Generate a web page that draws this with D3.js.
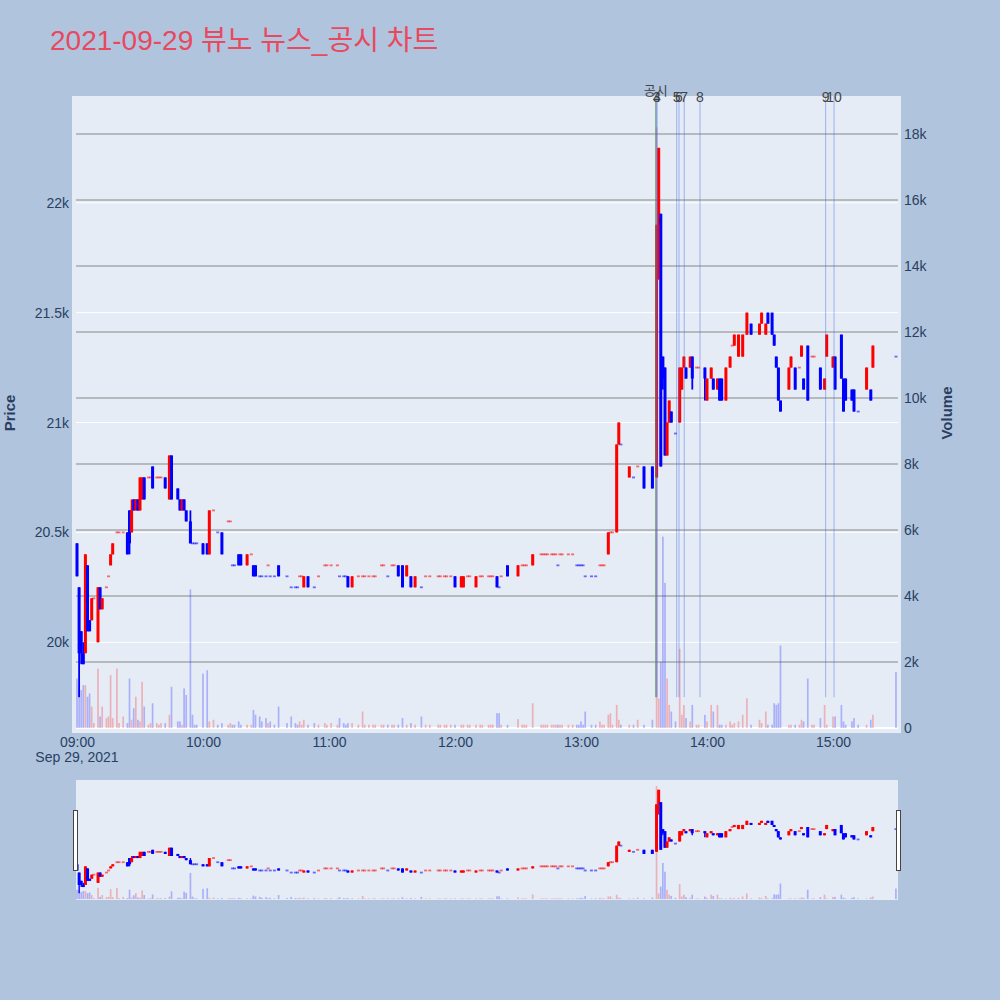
<!DOCTYPE html>
<html>
<head>
<meta charset="utf-8">
<script src="https://cdnjs.cloudflare.com/ajax/libs/d3/7.8.5/d3.min.js"></script>
<style>
  body { margin: 0; background: #b0c4de; }
  text { font-family: "Liberation Sans", Arial, "Noto Sans CJK KR", sans-serif; }
</style>
</head>
<body>
<div id="chart"></div>
<script>
// 1-minute candles, 2021-09-29 (minutes without trades are left out)
const times = [
  "09:00","09:01","09:02","09:03","09:04","09:05","09:06","09:07","09:08","09:10",
  "09:11","09:12","09:14","09:15","09:16","09:17","09:19","09:20","09:22","09:24",
  "09:25","09:26","09:27","09:28","09:29","09:30","09:31","09:32","09:34","09:35",
  "09:36","09:38","09:39","09:40","09:42","09:44","09:45","09:48","09:49","09:50",
  "09:51","09:52","09:54","09:55","09:56","09:57","10:00","10:02","10:03","10:05",
  "10:07","10:09","10:12","10:13","10:14","10:15","10:17","10:18","10:21","10:23",
  "10:24","10:25","10:27","10:28","10:30","10:31","10:32","10:34","10:36","10:40",
  "10:42","10:44","10:45","10:46","10:47","10:48","10:50","10:53","10:55","10:58",
  "10:59","11:01","11:04","11:05","11:07","11:08","11:09","11:11","11:14","11:16",
  "11:17","11:19","11:21","11:22","11:25","11:26","11:28","11:30","11:31","11:33",
  "11:35","11:37","11:39","11:41","11:44","11:46","11:48","11:52","11:53","11:55",
  "11:56","11:58","12:00","12:03","12:04","12:06","12:07","12:10","12:12","12:13",
  "12:16","12:17","12:18","12:20","12:21","12:22","12:25","12:30","12:32","12:33",
  "12:34","12:37","12:41","12:42","12:43","12:44","12:46","12:47","12:48","12:49",
  "12:50","12:51","12:54","12:56","12:58","12:59","13:00","13:01","13:02","13:05",
  "13:07","13:09","13:10","13:11","13:13","13:14","13:15","13:17","13:18","13:19",
  "13:23","13:25","13:27","13:30","13:34","13:36","13:37","13:38","13:39","13:40",
  "13:41","13:42","13:43","13:45","13:47","13:48","13:49","13:50","13:52","13:53",
  "13:55","13:56","13:59","14:00","14:02","14:03","14:05","14:06","14:07","14:09",
  "14:11","14:12","14:13","14:15","14:17","14:19","14:21","14:25","14:26","14:28",
  "14:29","14:31","14:32","14:33","14:34","14:35","14:39","14:40","14:42","14:44",
  "14:45","14:46","14:48","14:50","14:51","14:54","14:56","14:57","15:00","15:01",
  "15:04","15:05","15:06","15:09","15:10","15:12","15:16","15:18","15:19","15:30"
];
const opens = [
  20450,20250,20050,19950,19950,20350,20100,20100,20200,20000,
  20250,20150,20250,20300,20350,20400,20500,20500,20500,20500,
  20600,20500,20650,20600,20650,20600,20650,20750,20750,20750,
  20800,20750,20750,20750,20750,20650,20850,20700,20650,20600,
  20650,20600,20550,20450,20450,20450,20450,20450,20400,20600,
  20500,20500,20550,20550,20350,20350,20400,20400,20350,20400,
  20350,20350,20300,20300,20300,20350,20300,20300,20350,20300,
  20250,20250,20250,20300,20300,20250,20300,20250,20300,20350,
  20350,20350,20350,20300,20300,20300,20300,20250,20300,20300,
  20300,20300,20300,20300,20350,20350,20300,20350,20350,20350,
  20350,20300,20300,20250,20250,20300,20300,20300,20300,20300,
  20300,20300,20300,20250,20250,20300,20300,20250,20300,20300,
  20300,20300,20300,20300,20250,20300,20350,20300,20350,20350,
  20350,20350,20400,20400,20400,20400,20400,20400,20400,20350,
  20400,20400,20400,20400,20350,20350,20350,20350,20300,20300,
  20300,20350,20350,20350,20400,20500,20500,20500,20900,20900,
  20750,20750,20800,20800,20800,20750,21900,21950,21300,21250,
  20850,21000,21050,20950,21000,21150,21250,21250,21250,21300,
  21250,21250,21250,21100,21200,21200,21150,21200,21200,21100,
  21250,21350,21350,21300,21300,21400,21450,21400,21450,21400,
  21500,21500,21400,21300,21250,21100,21150,21250,21250,21250,
  21300,21200,21350,21300,21300,21250,21150,21300,21250,21300,
  21400,21200,21200,21150,21150,21050,21150,21150,21250,21300
];
const highs = [
  20450,20250,20050,20000,20400,20350,20100,20200,20200,20250,
  20250,20200,20250,20300,20400,20450,20500,20500,20500,20500,
  20600,20650,20650,20650,20650,20750,20750,20750,20750,20750,
  20800,20750,20750,20750,20750,20850,20850,20700,20650,20650,
  20650,20600,20600,20450,20450,20450,20450,20450,20600,20600,
  20500,20500,20550,20550,20350,20350,20400,20400,20400,20400,
  20350,20350,20300,20300,20300,20350,20300,20300,20350,20300,
  20250,20250,20250,20300,20300,20300,20300,20250,20300,20350,
  20350,20350,20350,20300,20300,20300,20300,20300,20300,20300,
  20300,20300,20300,20300,20350,20350,20300,20350,20350,20350,
  20350,20350,20300,20300,20250,20300,20300,20300,20300,20300,
  20300,20300,20300,20300,20300,20300,20300,20300,20300,20300,
  20300,20300,20300,20300,20250,20300,20350,20350,20350,20350,
  20350,20400,20400,20400,20400,20400,20400,20400,20400,20350,
  20400,20400,20400,20400,20350,20350,20350,20350,20300,20300,
  20300,20350,20350,20350,20500,20500,20500,20900,21000,20900,
  20800,20750,20800,20800,20800,21900,22250,21950,21300,21250,
  21000,21100,21050,20950,21250,21250,21300,21250,21300,21300,
  21250,21250,21250,21200,21250,21200,21200,21200,21200,21250,
  21300,21350,21400,21400,21400,21500,21450,21450,21500,21450,
  21500,21500,21400,21300,21250,21100,21250,21300,21250,21250,
  21350,21200,21350,21300,21300,21250,21200,21400,21300,21300,
  21400,21200,21200,21150,21150,21050,21250,21150,21350,21300
];
const lows = [
  20300,19750,19900,19900,19950,20050,20050,20100,20200,20000,
  20150,20150,20250,20300,20350,20400,20500,20500,20500,20400,
  20400,20500,20600,20600,20600,20600,20650,20650,20750,20750,
  20700,20750,20750,20750,20700,20650,20650,20650,20600,20600,
  20600,20550,20450,20450,20450,20450,20400,20400,20400,20600,
  20500,20400,20550,20550,20350,20350,20350,20350,20350,20400,
  20300,20300,20300,20300,20300,20350,20300,20300,20300,20300,
  20250,20250,20250,20300,20300,20250,20250,20250,20300,20350,
  20350,20350,20350,20300,20300,20300,20250,20250,20300,20300,
  20300,20300,20300,20300,20350,20350,20300,20350,20350,20300,
  20250,20300,20250,20250,20250,20300,20300,20300,20300,20300,
  20300,20300,20250,20250,20250,20300,20300,20250,20300,20300,
  20300,20300,20300,20250,20250,20300,20300,20300,20350,20350,
  20350,20350,20400,20400,20400,20400,20400,20400,20400,20350,
  20400,20400,20400,20400,20350,20350,20350,20350,20300,20300,
  20300,20350,20350,20350,20400,20500,20500,20500,20900,20900,
  20750,20750,20800,20700,20700,20750,21650,20800,21150,20850,
  20850,21000,21000,20950,21000,21150,21250,21200,21250,21150,
  21250,21250,21100,21100,21200,21150,21150,21100,21100,21100,
  21250,21350,21350,21300,21300,21400,21400,21400,21450,21400,
  21450,21400,21350,21250,21100,21050,21150,21250,21150,21250,
  21300,21150,21100,21300,21300,21150,21150,21300,21250,21150,
  21200,21050,21100,21100,21050,21050,21150,21100,21250,21300
];
const closes = [
  20300,19950,19950,19900,20400,20050,20050,20200,20200,20250,
  20150,20200,20250,20300,20400,20450,20500,20500,20500,20400,
  20450,20600,20600,20650,20600,20750,20750,20650,20750,20750,
  20700,20750,20750,20750,20700,20850,20650,20650,20600,20650,
  20600,20550,20450,20450,20450,20450,20400,20400,20600,20600,
  20500,20400,20550,20550,20350,20350,20350,20350,20400,20400,
  20300,20300,20300,20300,20300,20350,20300,20300,20300,20300,
  20250,20250,20250,20300,20300,20300,20250,20250,20300,20350,
  20350,20350,20350,20300,20300,20300,20250,20300,20300,20300,
  20300,20300,20300,20300,20350,20350,20300,20350,20350,20300,
  20250,20350,20250,20300,20250,20300,20300,20300,20300,20300,
  20300,20300,20250,20300,20300,20300,20300,20300,20300,20300,
  20300,20300,20300,20250,20250,20300,20300,20350,20350,20350,
  20350,20400,20400,20400,20400,20400,20400,20400,20400,20350,
  20400,20400,20400,20400,20350,20350,20350,20350,20300,20300,
  20300,20350,20350,20350,20500,20500,20500,20900,21000,20900,
  20800,20750,20800,20700,20700,21900,22250,20800,21200,20850,
  21000,21100,21000,20950,21250,21250,21300,21200,21300,21200,
  21250,21250,21200,21200,21250,21150,21200,21100,21100,21250,
  21300,21350,21400,21400,21400,21500,21400,21450,21500,21450,
  21450,21400,21350,21250,21100,21050,21250,21300,21150,21250,
  21350,21150,21100,21300,21300,21150,21200,21400,21300,21150,
  21200,21050,21100,21100,21050,21050,21250,21100,21350,21300
];
const volumes = [
  1500,1350,1150,1300,1300,950,1050,650,150,1800,
  350,650,300,350,1600,300,1800,150,350,150,
  1500,250,600,950,250,200,1400,650,100,150,
  750,150,100,150,150,400,1250,200,200,100,
  1200,1000,4200,400,100,100,1650,1750,200,250,
  100,150,100,150,100,100,200,100,100,100,
  550,400,350,200,300,150,200,100,650,150,
  350,150,100,200,100,250,100,150,100,150,
  100,150,100,300,150,100,150,150,100,500,
  100,100,100,100,100,100,100,100,100,100,
  300,100,150,100,350,100,100,100,100,100,
  100,100,100,100,100,100,100,100,100,100,
  100,100,100,450,450,100,100,270,100,100,
  100,750,100,100,100,100,100,100,100,100,
  100,100,100,100,100,100,200,100,500,100,
  100,200,100,100,400,450,100,700,250,100,
  100,100,250,100,250,18200,900,2000,5800,4400,
  1500,700,500,200,2400,400,700,300,200,700,
  100,100,400,200,700,500,700,100,100,100,
  200,100,150,200,400,900,100,250,150,500,
  100,100,750,700,750,2500,100,100,100,100,
  250,200,1500,100,100,300,700,100,350,350,
  700,200,100,200,300,100,100,250,400,1700
];

// disclosure / news markers
const noticeTimes = ["13:35:35"];
const noticeLabels = ["공시"];
const newsTimes = ["13:36:05", "13:36:10", "13:45:35", "13:46:40", "13:49:10", "13:56:40", "14:56:30", "15:00:30"];
const newsLabels = ["3", "4", "5", "6", "7", "8", "9", "10"];

const priceTicks = [20000, 20500, 21000, 21500, 22000];
const volumeTicks = [0, 2000, 4000, 6000, 8000, 10000, 12000, 14000, 16000, 18000];

const day = "2021-09-29";
const parseTime = d3.timeParse("%Y-%m-%d %H:%M:%S");
function at(t) {
  return parseTime(day + " " + (t.length === 5 ? t + ":00" : t));
}

const candles = times.map((t, i) => ({
  time: at(t), open: opens[i], high: highs[i], low: lows[i], close: closes[i], volume: volumes[i]
}));
// red = up, blue = down; a flat candle takes its colour from the previous close
let prevClose = null;
let prevUp = true;
candles.forEach(d => {
  if (d.close > d.open) d.up = true;
  else if (d.close < d.open) d.up = false;
  else if (prevClose !== null && d.close !== prevClose) d.up = d.close > prevClose;
  else d.up = prevUp;
  prevClose = d.close;
  prevUp = d.up;
});
const dayLow = d3.min(lows);

const svg = d3.select("#chart").append("svg").attr("width", 1000).attr("height", 1000);
svg.append("rect").attr("width", 1000).attr("height", 1000).attr("fill", "#b0c4de");

svg.append("text")
  .attr("x", 50)
  .attr("y", 50)
  .attr("font-size", 28)
  .attr("fill", "#e8495f")
  .text("2021-09-29 뷰노 뉴스_공시 차트");

// main plot
const x = d3.scaleTime().domain([at("08:57:37"), at("15:32:23")]).range([72, 901]);
const y = d3.scaleLinear().domain([19587, 22486]).range([733, 96]);
const yVol = d3.scaleLinear().domain([-151, 19151]).range([733, 96]);

svg.append("rect").attr("x", 72).attr("y", 96).attr("width", 829).attr("height", 637).attr("fill", "#e5ecf6");
svg.append("clipPath").attr("id", "plotClip")
  .append("rect").attr("x", 72).attr("y", 96).attr("width", 829).attr("height", 637);

const grid = svg.append("g");
grid.selectAll(".pgrid").data(priceTicks).join("line")
  .attr("x1", 76).attr("x2", 898)
  .attr("y1", d => y(d)).attr("y2", d => y(d))
  .attr("stroke", "#ffffff").attr("stroke-width", 1);
grid.selectAll(".vgrid").data(volumeTicks.slice(1)).join("line")
  .attr("x1", 76).attr("x2", 898)
  .attr("y1", d => yVol(d)).attr("y2", d => yVol(d))
  .attr("stroke", "#878787").attr("stroke-width", 1.2);
grid.append("line")
  .attr("x1", 76).attr("x2", 898)
  .attr("y1", yVol(0)).attr("y2", yVol(0))
  .attr("stroke", "#ffffff").attr("stroke-width", 2);

function drawVolume(g, xs, ys, barWidth) {
  g.selectAll("rect.vol").data(candles).join("rect")
    .attr("class", "vol")
    .attr("x", d => xs(d.time) - barWidth / 2)
    .attr("width", barWidth)
    .attr("y", d => ys(d.volume))
    .attr("height", d => ys(0) - ys(d.volume))
    .attr("fill", d => d.up ? "#ff0000" : "#0000ff")
    .attr("fill-opacity", 0.25);
}

function drawCandles(g, xs, ys, wickWidth) {
  const c = g.selectAll("g.candle").data(candles).join("g").attr("class", "candle");
  c.append("line")
    .attr("x1", d => xs(d.time)).attr("x2", d => xs(d.time))
    .attr("y1", d => ys(d.high)).attr("y2", d => ys(d.low))
    .attr("stroke", d => d.up ? "#ff0000" : "#0000ff")
    .attr("stroke-width", wickWidth);
  c.append("rect")
    .attr("x", d => xs(d.time) - 1.5)
    .attr("width", 3)
    .attr("y", d => d.open === d.close ? ys(d.close) - 0.9 : ys(Math.max(d.open, d.close)))
    .attr("height", d => d.open === d.close ? 1.8 : Math.abs(ys(d.open) - ys(d.close)))
    .attr("fill", d => d.up ? "#ff0000" : "#0000ff")
    .attr("fill-opacity", d => d.open === d.close ? 0.55 : 1);
}

const plot = svg.append("g").attr("clip-path", "url(#plotClip)");
drawVolume(plot.append("g"), x, yVol, 1.7);
drawCandles(plot.append("g"), x, y, 1.8);

// marker lines and labels
const marks = svg.append("g");
marks.selectAll(".news").data(newsTimes).join("line")
  .attr("x1", d => x(at(d))).attr("x2", d => x(at(d)))
  .attr("y1", 96).attr("y2", y(dayLow))
  .attr("stroke", "royalblue").attr("stroke-opacity", 0.45).attr("stroke-width", 1);
marks.selectAll(".notice").data(noticeTimes).join("line")
  .attr("x1", d => x(at(d))).attr("x2", d => x(at(d)))
  .attr("y1", 96).attr("y2", y(dayLow))
  .attr("stroke", "#4f8f5f").attr("stroke-opacity", 0.8).attr("stroke-width", 1);
marks.selectAll(".newsLabel").data(newsTimes).join("text")
  .attr("x", d => x(at(d))).attr("y", 102)
  .attr("text-anchor", "middle").attr("font-size", 14).attr("fill", "#444")
  .text((d, i) => newsLabels[i]);
marks.selectAll(".noticeLabel").data(noticeTimes).join("text")
  .attr("x", d => x(at(d))).attr("y", 95)
  .attr("text-anchor", "middle").attr("font-size", 13).attr("fill", "#444")
  .text((d, i) => noticeLabels[i]);

// axes
const leftAxis = svg.append("g").attr("transform", "translate(72,0)")
  .call(d3.axisLeft(y).tickValues(priceTicks).tickFormat(d => d / 1000 + "k").tickSize(0).tickPadding(3));
const rightAxis = svg.append("g").attr("transform", "translate(901,0)")
  .call(d3.axisRight(yVol).tickValues(volumeTicks).tickFormat(d => d === 0 ? "0" : d / 1000 + "k").tickSize(0).tickPadding(3));
const bottomAxis = svg.append("g").attr("transform", "translate(0,733)")
  .call(d3.axisBottom(x).ticks(d3.timeHour.every(1)).tickFormat(d3.timeFormat("%H:%M")).tickSize(0).tickPadding(4));
[leftAxis, rightAxis, bottomAxis].forEach(a => {
  a.select(".domain").remove();
  a.selectAll("text").attr("font-size", 14).attr("fill", "#2a3f5f")
    .attr("font-family", "'Liberation Sans', Arial, sans-serif");
});
svg.append("text")
  .attr("x", x(at("09:00"))).attr("y", 762)
  .attr("text-anchor", "middle").attr("font-size", 14).attr("fill", "#2a3f5f")
  .text("Sep 29, 2021");

svg.append("text")
  .attr("transform", "translate(15,413) rotate(-90)")
  .attr("text-anchor", "middle").attr("font-size", 15).attr("font-weight", "bold").attr("fill", "#2a3f5f")
  .text("Price");
svg.append("text")
  .attr("transform", "translate(952,413) rotate(-90)")
  .attr("text-anchor", "middle").attr("font-size", 15).attr("font-weight", "bold").attr("fill", "#2a3f5f")
  .text("Volume");

// range slider
const xs = d3.scaleTime().domain([at("08:59:30"), at("15:31:00")]).range([76, 898]);
const ys = d3.scaleLinear().domain(y.domain()).range([900, 780]);
const yvs = d3.scaleLinear().domain(yVol.domain()).range([900, 780]);

svg.append("rect").attr("x", 76).attr("y", 780).attr("width", 822).attr("height", 120).attr("fill", "#e5ecf6");
svg.append("clipPath").attr("id", "sliderClip")
  .append("rect").attr("x", 76).attr("y", 780).attr("width", 822).attr("height", 120);
const slider = svg.append("g").attr("clip-path", "url(#sliderClip)");
drawVolume(slider.append("g"), xs, yvs, 1.7);
drawCandles(slider.append("g"), xs, ys, 1.4);

svg.append("rect").attr("x", 73.5).attr("y", 810.5).attr("width", 4).attr("height", 60)
  .attr("fill", "#fff").attr("stroke", "#444").attr("stroke-width", 1);
svg.append("rect").attr("x", 896.5).attr("y", 810.5).attr("width", 4).attr("height", 60)
  .attr("fill", "#fff").attr("stroke", "#444").attr("stroke-width", 1);
</script>
</body>
</html>
